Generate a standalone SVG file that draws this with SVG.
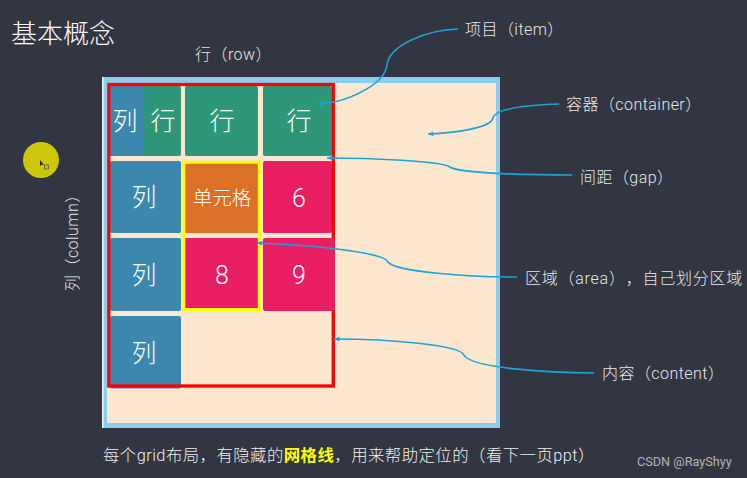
<svg xmlns="http://www.w3.org/2000/svg" width="747" height="478" viewBox="0 0 747 478">
<style>
text{font-family:"Roboto","Noto Sans CJK SC","Noto Sans",sans-serif;text-spacing-trim:space-all}
.lbl{font-size:16px;fill:#e8e8e8;font-weight:300;letter-spacing:.45px}
.cell{font-size:25px;fill:#fff;text-anchor:middle;font-weight:300}
.conn{fill:none;stroke:#1ea3d8;stroke-width:1.6;marker-end:url(#arr)}
.blue{fill:#3b87ae}.green{fill:#2e977a}.pink{fill:#ea1f63}
</style>
<defs>
<marker id="arr" markerUnits="userSpaceOnUse" markerWidth="7" markerHeight="7" refX="5.500" refY="2.500" orient="auto">
<path d="M0 0L5.500 2.500L0 5Z" fill="#1ea3d8"/>
</marker>
</defs>
<rect width="747" height="478" fill="#323542"/>
<text x="11" y="43" font-size="26px" fill="#fff" font-weight="300" id="title">基本概念</text>
<text class="lbl" x="195" y="60">行（row）</text>
<text class="lbl" transform="translate(78 291) rotate(-90)">列（column）</text>
<g id="cursor">
<circle cx="41" cy="160" r="18" fill="#cdc70b"/>
<path d="M40 160L40 166L42 164.500L44 165Z" fill="#222"/>
<rect x="44.500" y="165" width="4" height="4" fill="none" stroke="#555" stroke-width="0.800"/>
</g>
<g id="container">
<rect x="102" y="77" width="398" height="351" fill="#8dcdec"/>
<rect x="102" y="77" width="1.500" height="351" fill="#f4f8fa"/>
<rect x="107" y="83" width="389" height="340" fill="#fee7cf"/>
</g>
<g id="cells">
<g id="c1"><rect x="110" y="86" width="71" height="70" rx="2" class="green"/><path d="M110 86H144V156H110Z" class="blue"/><text class="cell" x="125" y="130">列</text><text class="cell" x="163" y="130">行</text></g>
<g id="c2"><rect x="185" y="86" width="73" height="70" rx="2" class="green"/><text class="cell" x="222" y="130">行</text></g>
<g id="c3"><rect x="263" y="86" width="69" height="70" rx="2" class="green"/><text class="cell" x="299" y="130">行</text></g>
<g id="c4"><rect x="110" y="161" width="71" height="72" rx="2" class="blue"/><text class="cell" x="144" y="206">列</text></g>
<g id="c5"><rect x="185" y="163" width="73" height="70" rx="1" fill="#db7027"/><text x="222" y="205" font-size="19.500" fill="#fff" font-weight="300" text-anchor="middle">单元格</text></g>
<g id="c6"><rect x="263" y="161" width="69" height="72" rx="2" class="pink"/><text class="cell" x="299" y="207">6</text></g>
<g id="c7"><rect x="110" y="238" width="71" height="73" rx="2" class="blue"/><text class="cell" x="144" y="284">列</text></g>
<g id="c8"><rect x="185" y="238" width="73" height="71" rx="1" class="pink"/><text class="cell" x="222" y="284">8</text></g>
<g id="c10"><rect x="110" y="316" width="71" height="72.500" rx="2" class="blue"/><text class="cell" x="144" y="362">列</text></g>
</g>
<rect id="area" x="183.800" y="162.200" width="75.500" height="147.300" fill="none" stroke="#ff0" stroke-width="3"/>
<rect id="content" x="108.800" y="84.500" width="224.500" height="301.500" fill="none" stroke="#f00" stroke-width="3.300"/>
<g id="c9"><rect x="263" y="238" width="72" height="73" rx="2" class="pink"/><text class="cell" x="299" y="284">9</text></g>
<g id="connectors">
<path class="conn" d="M458 29C425 30 389 46 387 65C385 84 352 98 334 102L318 104"/>
<path class="conn" d="M559 104C530 105 495 108 493 118C491 128 455 133 428 134"/>
<path class="conn" d="M572 175C540 175 460 174 450 167C442 161 370 158 327 158"/>
<path class="conn" d="M517 277C470 277 395 272 388 262C384 252 310 245 257 243"/>
<path class="conn" d="M594 373C550 373 470 368 464 355C460 345 390 339 334 339"/>
</g>
<g id="labels">
<text class="lbl" x="465" y="35">项目（item）</text>
<text class="lbl" x="566" y="110">容器（container）</text>
<text class="lbl" x="580" y="183">间距（gap）</text>
<text class="lbl" x="525" y="284" style="letter-spacing:.75px">区域（area），自己划分区域</text>
<text class="lbl" x="602" y="379">内容（content）</text>
</g>
<text class="lbl" x="103" y="461" style="font-size:16.400px;fill:#f0f0f0">每个grid布局，有隐藏的<tspan fill="#ff0" font-weight="700">网格线</tspan>，用来帮助定位的（看下一页ppt）</text>
<text x="637" y="466" font-size="12.700px" fill="#b4b4b4">CSDN @RayShyy</text>
</svg>
